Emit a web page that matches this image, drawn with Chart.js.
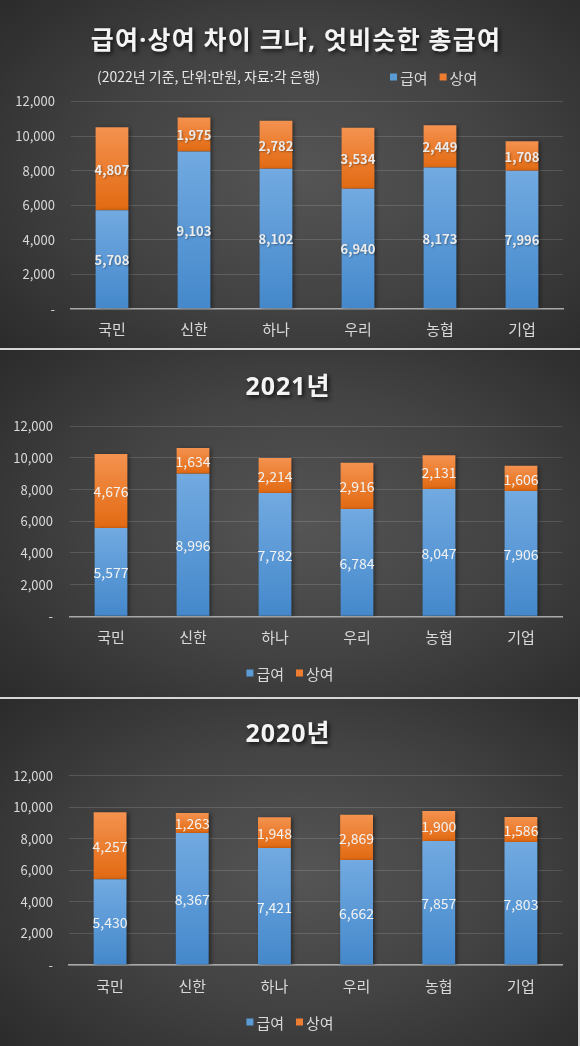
<!DOCTYPE html>
<html><head><meta charset="utf-8">
<script src="https://cdn.jsdelivr.net/npm/chart.js@4.4.1/dist/chart.umd.min.js"></script>
<style>
html,body{margin:0;padding:0;width:580px;height:1046px;overflow:hidden;background:#d6d6d6}
.panel{position:absolute;left:0;width:580px;background:radial-gradient(ellipse 72% 78% at 52% 50%,#555555 0%,#424242 50%,#292929 100%)}
canvas{display:block}
</style></head><body>
<div class="panel" style="top:0;height:348px"><canvas id="c1" width="580" height="348"></canvas></div>
<div class="panel" style="top:350px;height:347px"><canvas id="c2" width="580" height="347"></canvas></div>
<div class="panel" style="top:699px;height:347px;width:578px"><canvas id="c3" width="578" height="347"></canvas></div>
<script>
const categories = ['국민','신한','하나','우리','농협','기업'];
const seriesNames = ['급여','상여'];
const salary2022 = [5708,9103,8102,6940,8173,7996];
const bonus2022  = [4807,1975,2782,3534,2449,1708];
const salary2021 = [5577,8996,7782,6784,8047,7906];
const bonus2021  = [4676,1634,2214,2916,2131,1606];
const salary2020 = [5430,8367,7421,6662,7857,7803];
const bonus2020  = [4257,1263,1948,2869,1900,1586];
const title2022 = '급여·상여 차이 크나, 엇비슷한 총급여';
const subtitle2022 = '(2022년 기준, 단위:만원, 자료:각 은행)';
const title2021 = '2021년';
const title2020 = '2020년';
const yMin = 0, yMax = 12000, yStep = 2000;

const FONT = '"Noto Sans CJK KR", "Noto Sans", sans-serif';
const TITLE_FONT = '"Noto Sans", "Noto Sans CJK KR", sans-serif';
const BLUE_GRAD = ['#72aae1', '#4488cb'];
const ORANGE_GRAD = ['#f4924f', '#e26a12'];
const LEGEND_COLORS = ['#5b9bd5', '#ed7d31'];
const TEXT = '#d9d9d9';

function fmt(v){ return v === 0 ? '-' : v.toLocaleString('en-US'); }

function makeChart(id, o) {
  const canvas = document.getElementById(id);
  const W = canvas.width, H = canvas.height;
  const salary = o.salary, bonus = o.bonus;

  const grad = (ctx, colors) => {
    const chart = ctx.chart, y = chart.scales && chart.scales.y;
    if (!y || ctx.type !== 'data') return colors[1];
    const i = ctx.dataIndex;
    const start = ctx.datasetIndex === 0 ? 0 : salary[i];
    const end = start + (ctx.datasetIndex === 0 ? salary[i] : bonus[i]);
    const top = y.getPixelForValue(end), bot = y.getPixelForValue(start);
    if (!isFinite(top) || !isFinite(bot) || top === bot) return colors[1];
    const g = chart.ctx.createLinearGradient(0, top, 0, bot);
    g.addColorStop(0, colors[0]); g.addColorStop(1, colors[1]);
    return g;
  };

  const deco = {
    id: 'deco' + id,
    beforeDatasetsDraw(chart) {
      const c = chart.ctx; c.save();
      c.shadowColor = 'rgba(0,0,0,0.45)'; c.shadowBlur = 4; c.shadowOffsetX = 2; c.shadowOffsetY = 1;
    },
    afterDatasetsDraw(chart) {
      const c = chart.ctx; c.restore();
      c.save();
      c.font = (o.boldLabels ? 'bold ' : '') + o.labelSize + 'px ' + FONT;
      c.textAlign = 'center'; c.textBaseline = 'middle';
      c.fillStyle = o.labelColor;
      if (o.boldLabels) { c.shadowColor = 'rgba(0,0,0,0.35)'; c.shadowBlur = 2; c.shadowOffsetX = 1; c.shadowOffsetY = 1; }
      chart.data.datasets.forEach((ds, di) => {
        chart.getDatasetMeta(di).data.forEach((el, i) => {
          c.fillText(fmt(ds.data[i]), el.x, (el.y + el.base) / 2 + 1);
        });
      });
      c.restore();
    },
    afterDraw(chart) {
      const c = chart.ctx; c.save();
      c.font = 'bold ' + o.titleSize + 'px ' + TITLE_FONT;
      c.letterSpacing = o.titleSpacing + 'px';
      c.textAlign = 'center'; c.textBaseline = 'middle';
      c.shadowColor = 'rgba(0,0,0,0.75)'; c.shadowBlur = 4; c.shadowOffsetX = 2; c.shadowOffsetY = 2;
      c.fillStyle = '#f4f4f4';
      c.fillText(o.title, o.titleX, o.titleY);
      c.letterSpacing = '0px';
      c.shadowColor = 'transparent'; c.shadowBlur = 0; c.shadowOffsetX = 0; c.shadowOffsetY = 0;
      if (o.subtitle) {
        c.font = o.subSize + 'px ' + FONT;
        c.textAlign = 'left';
        c.fillStyle = '#e6e6e6';
        c.fillText(o.subtitle, o.subX, o.subY);
      }
      c.font = o.legendSize + 'px ' + FONT;
      c.textAlign = 'left';
      const sq = 7, gap1 = 3, gap2 = 12;
      const widths = seriesNames.map(n => c.measureText(n).width);
      const total = widths.reduce((a, w) => a + sq + gap1 + w, 0) + gap2;
      let x = o.legendCenter ? o.legendX - total / 2 : o.legendX;
      seriesNames.forEach((n, k) => {
        c.fillStyle = LEGEND_COLORS[k];
        c.fillRect(x, o.legendY - sq / 2, sq, sq);
        x += sq + gap1;
        c.fillStyle = TEXT;
        c.fillText(n, x, o.legendY + 1);
        x += widths[k] + gap2;
      });
      c.restore();
    }
  };

  return new Chart(canvas, {
    type: 'bar',
    data: {
      labels: categories,
      datasets: [
        { label: seriesNames[0], data: salary, backgroundColor: ctx => grad(ctx, BLUE_GRAD), borderWidth: 0 },
        { label: seriesNames[1], data: bonus, backgroundColor: ctx => grad(ctx, ORANGE_GRAD), borderWidth: 0 }
      ]
    },
    options: {
      responsive: false,
      animation: false,
      devicePixelRatio: 1,
      layout: { padding: { top: o.plotTop, right: W - o.plotRight, left: 0, bottom: 0 } },
      datasets: { bar: { barPercentage: 1, categoryPercentage: 0.4 } },
      plugins: { legend: { display: false }, title: { display: false }, tooltip: { enabled: false } },
      scales: {
        x: {
          stacked: true,
          afterFit: s => { s.height = H - o.plotBottom; },
          grid: { display: false, drawTicks: false },
          border: { display: true, color: '#a9a9a9', width: 1.5 },
          ticks: { color: TEXT, font: { family: FONT, size: 15 }, padding: 12 }
        },
        y: {
          stacked: true, min: yMin, max: yMax,
          afterFit: s => { s.width = o.plotLeft; },
          grid: { color: 'rgba(255,255,255,0.14)', lineWidth: 1, drawTicks: false },
          border: { display: false },
          ticks: { stepSize: yStep, color: TEXT, font: { family: FONT, size: 13 }, padding: o.plotLeft - o.yLabelRight, callback: v => fmt(v) }
        }
      }
    },
    plugins: [deco]
  });
}

makeChart('c1', {
  salary: salary2022, bonus: bonus2022,
  plotLeft: 71, plotRight: 563, plotTop: 101.5, plotBottom: 308.7, yLabelRight: 55,
  title: title2022, titleSize: 25, titleSpacing: 1.2, titleX: 296, titleY: 42,
  subtitle: subtitle2022, subSize: 14, subX: 97, subY: 77,
  legendSize: 15, legendX: 390, legendY: 77, legendCenter: false,
  boldLabels: true, labelSize: 13, labelColor: '#ececec'
});
makeChart('c2', {
  salary: salary2021, bonus: bonus2021,
  plotLeft: 70, plotRight: 562, plotTop: 76.3, plotBottom: 266.3, yLabelRight: 53,
  title: title2021, titleSize: 25, titleSpacing: 1, titleX: 288, titleY: 38,
  legendSize: 15, legendX: 290, legendY: 323, legendCenter: true,
  boldLabels: false, labelSize: 14, labelColor: '#f2f2f2'
});
makeChart('c3', {
  salary: salary2020, bonus: bonus2020,
  plotLeft: 69, plotRight: 562, plotTop: 76.7, plotBottom: 266, yLabelRight: 53,
  title: title2020, titleSize: 25, titleSpacing: 1, titleX: 288, titleY: 36,
  legendSize: 15, legendX: 290, legendY: 323, legendCenter: true,
  boldLabels: false, labelSize: 14, labelColor: '#f2f2f2'
});
</script>
</body></html>
